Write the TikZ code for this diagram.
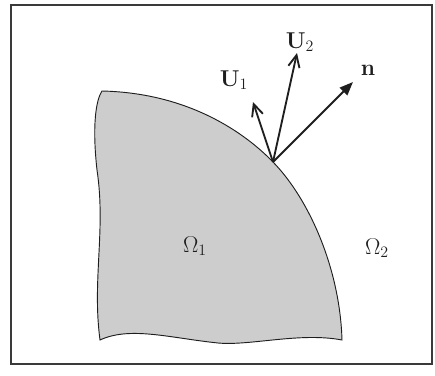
\documentclass[tikz,border=0pt]{standalone}
\usepackage{amsmath,amssymb}
\usepackage{tikz}
\usetikzlibrary{arrows.meta}
\usepackage{xcolor}
\definecolor{regionfill}{HTML}{CDCDCD}
\definecolor{ink}{HTML}{1E1E1E}
\definecolor{frameline}{HTML}{3A3A3A}

\begin{document}
\begin{tikzpicture}[>=Latex, x=0.0265cm, y=-0.0265cm,
    vec/.style={ink, line width=1.4pt},
    lbl/.style={ink, font=\LARGE}]
        \useasboundingbox (0,0) rectangle (435,376);
        \draw[frameline, line width=0.9pt] (11,5) rectangle (432,364);
        % the region Omega_1
        \draw[ink, line width=0.7pt, fill=regionfill]
          (102,91) .. controls (190,93) and (246,134) .. (273,162)
                   .. controls (310,200) and (340,270) .. (342,340)
                   .. controls (300,332) and (250,346) .. (218,343)
                   .. controls (170,338) and (130,326) .. (100,340)
                   .. controls (92,280) and (106,230) .. (97,170)
                   .. controls (92,125) and (96,100) .. (102,91) -- cycle;
        \coordinate (tip) at (273,162);
        \coordinate (u1) at (253,102);
        \coordinate (u2) at (297,53);
        \coordinate (nn) at (353,82);
        \draw[vec, -{Straight Barb[length=3.2mm, width=3mm]}] (tip) -- (u1);
        \draw[vec, -{Straight Barb[length=3.2mm, width=3mm]}] (tip) -- (u2);
        \draw[vec, -{Triangle[length=3.6mm, width=2.8mm]}] (tip) -- (nn);
        \node[lbl] (labu1) at (234,80) {$\mathbf{U}_1$};
        \node[lbl] (labu2) at (300,42) {$\mathbf{U}_2$};
        \node[lbl] (labn) at (368,70) {$\mathbf{n}$};
        \node[lbl] (om1) at (195,246) {$\Omega_1$};
        \node[lbl] (om2) at (377,248) {$\Omega_2$};
      \end{tikzpicture}
\end{document}
